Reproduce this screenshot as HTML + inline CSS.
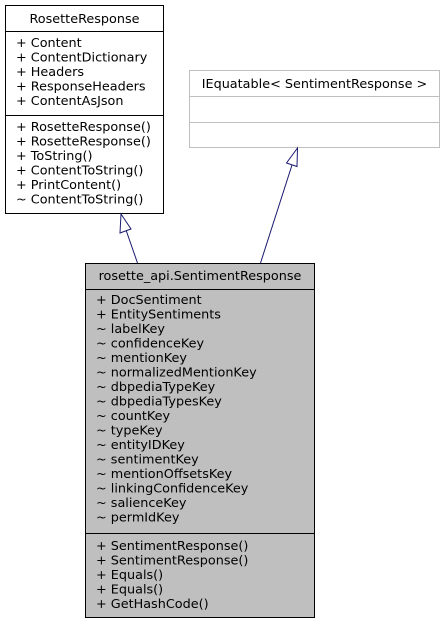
<!DOCTYPE html>
<html><head><meta charset="utf-8"><style>html,body{margin:0;padding:0;background:#fff}</style></head><body>
<svg width="445" height="624" viewBox="0 0 445 624" xmlns="http://www.w3.org/2000/svg" font-family="DejaVu Sans, sans-serif" font-size="12.8">
<rect x="5.5" y="5.5" width="158" height="208" fill="#fff" stroke="#000"/>
<line x1="5.5" y1="31.5" x2="163.5" y2="31.5" stroke="#000"/>
<line x1="5.5" y1="115.5" x2="163.5" y2="115.5" stroke="#000"/>
<text x="84.5" y="23" text-anchor="middle">RosetteResponse</text>
<g>
<text x="16" y="47">+ Content</text>
<text x="16" y="61.5">+ ContentDictionary</text>
<text x="16" y="76">+ Headers</text>
<text x="16" y="90.5">+ ResponseHeaders</text>
<text x="16" y="105">+ ContentAsJson</text>
<text x="16" y="131">+ RosetteResponse()</text>
<text x="16" y="145.5">+ RosetteResponse()</text>
<text x="16" y="160">+ ToString()</text>
<text x="16" y="174.5">+ ContentToString()</text>
<text x="16" y="189">+ PrintContent()</text>
<text x="16" y="203.5">~ ContentToString()</text>
</g>
<rect x="189.5" y="70.5" width="250" height="77" fill="#fff" stroke="#bfbfbf"/>
<line x1="189.5" y1="96.5" x2="439.5" y2="96.5" stroke="#bfbfbf"/>
<line x1="189.5" y1="122.5" x2="439.5" y2="122.5" stroke="#bfbfbf"/>
<text x="314.5" y="88" text-anchor="middle">IEquatable&lt; SentimentResponse &gt;</text>
<rect x="85.5" y="263.5" width="229" height="354" fill="#bfbfbf" stroke="#000"/>
<line x1="85.5" y1="289.5" x2="314.5" y2="289.5" stroke="#000"/>
<line x1="85.5" y1="533.5" x2="314.5" y2="533.5" stroke="#000"/>
<text x="200" y="280" text-anchor="middle">rosette_api.SentimentResponse</text>
<g>
<text x="96" y="304">+ DocSentiment</text>
<text x="96" y="318.5">+ EntitySentiments</text>
<text x="96" y="333">~ labelKey</text>
<text x="96" y="347.5">~ confidenceKey</text>
<text x="96" y="362">~ mentionKey</text>
<text x="96" y="376.5">~ normalizedMentionKey</text>
<text x="96" y="391">~ dbpediaTypeKey</text>
<text x="96" y="405.5">~ dbpediaTypesKey</text>
<text x="96" y="420">~ countKey</text>
<text x="96" y="434.5">~ typeKey</text>
<text x="96" y="449">~ entityIDKey</text>
<text x="96" y="463.5">~ sentimentKey</text>
<text x="96" y="478">~ mentionOffsetsKey</text>
<text x="96" y="492.5">~ linkingConfidenceKey</text>
<text x="96" y="507">~ salienceKey</text>
<text x="96" y="521.5">~ permIdKey</text>
<text x="96" y="550">+ SentimentResponse()</text>
<text x="96" y="564.5">+ SentimentResponse()</text>
<text x="96" y="579">+ Equals()</text>
<text x="96" y="593.5">+ Equals()</text>
<text x="96" y="608">+ GetHashCode()</text>
</g>
<g stroke="#191970" fill="#fff">
<line x1="137.5" y1="263" x2="126" y2="230"/>
<polygon points="121,214 120,233 131,229"/>
<line x1="260.5" y1="263" x2="292" y2="165"/>
<polygon points="297.5,148 286.5,163 297,166.5"/>
</g>
</svg>
</body></html>
